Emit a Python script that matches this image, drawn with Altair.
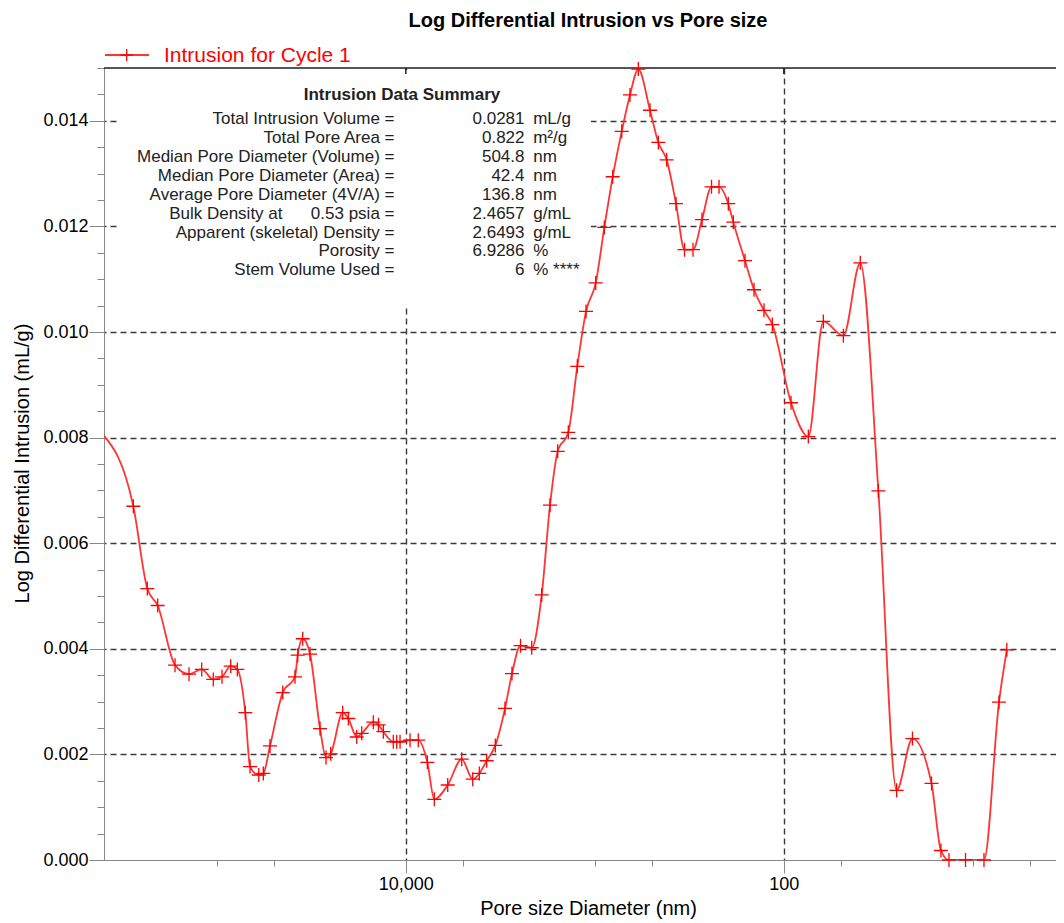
import altair as alt
import pandas as pd

# ---------------- data ----------------
diameter_nm = [405000, 276600, 233200, 205500, 166400, 140300, 120200, 104400, 93870, 84420,
               77900, 70660, 66720, 60020, 56750, 52310, 44800, 38580, 37330, 35120,
               32130, 28440, 26440, 24970, 21570, 20150, 18190, 17110, 14860, 13950,
               13150, 11650, 11170, 10730, 9500, 8590, 7693, 7068, 6002, 5061,
               4426, 4085, 3733, 3361, 2987, 2743, 2473, 2157, 1910, 1726,
               1572, 1381, 1238, 1113, 989, 890.6, 804, 720.5, 651.4, 588.7,
               510.5, 461.3, 416.6, 371.9, 335.3, 302.3, 270.9, 241.3, 220.2, 196.7,
               185.0, 160.5, 143.8, 127.3, 115.0, 91.6, 74.2, 61.8, 48.4, 39.4,
               31.6, 25.3, 20.87, 16.54, 14.75, 13.37, 10.93, 8.73, 7.27, 6.61]
log_diff_intrusion = [0.00808, 0.0067, 0.00514, 0.00482, 0.00369, 0.00352, 0.00361, 0.00342, 0.00347, 0.00367,
                      0.00361, 0.00279, 0.00177, 0.00161, 0.00164, 0.00216, 0.00317, 0.00347, 0.00388, 0.00419,
                      0.00390, 0.00249, 0.00194, 0.00201, 0.00279, 0.00268, 0.00233, 0.00240, 0.00261, 0.00256,
                      0.00243, 0.00224, 0.00224, 0.00224, 0.00227, 0.00227, 0.00185, 0.00115, 0.00142, 0.00191,
                      0.00153, 0.00164, 0.00188, 0.00217, 0.00287, 0.00353, 0.00406, 0.00402, 0.00502, 0.00672,
                      0.00774, 0.00810, 0.00935, 0.01039, 0.01093, 0.01198, 0.01294, 0.01380, 0.01449, 0.01498,
                      0.01420, 0.01359, 0.01326, 0.01243, 0.01156, 0.01156, 0.01213, 0.01275, 0.01275, 0.01243,
                      0.01208, 0.01135, 0.01080, 0.01041, 0.01014, 0.00866, 0.00802, 0.01020, 0.00993, 0.01131,
                      0.00699, 0.00132, 0.00230, 0.00145, 0.00018, 0.0, 0.0, 0.0, 0.00299, 0.00398]

x_tick_values = [100000, 50000, 10000, 5000, 1000, 500, 100, 50, 10, 5]
x_major_ticks = [10000, 100]
y_tick_values = [round(i * 0.0005, 4) for i in range(31)]

summary_title = "Intrusion Data Summary"
summary_labels = ["Total Intrusion Volume =", "Total Pore Area =", "Median Pore Diameter (Volume) =",
                  "Median Pore Diameter (Area) =", "Average Pore Diameter (4V/A) =",
                  "Bulk Density at\u00a0\u00a0\u00a0\u00a0\u00a0\u00a00.53 psia =",
                  "Apparent (skeletal) Density =", "Porosity =", "Stem Volume Used ="]
summary_values = ["0.0281", "0.822", "504.8", "42.4", "136.8", "2.4657", "2.6493", "6.9286", "6"]
summary_units = ["mL/g", "m\u00b2/g", "nm", "nm", "nm", "g/mL", "g/mL", "%", "% ****"]

series_name = "Intrusion for Cycle 1"
chart_title = "Log Differential Intrusion vs Pore size"
x_title = "Pore size Diameter (nm)"
y_title = "Log Differential Intrusion (mL/g)"

# ---------------- layout / style ----------------
FONT = "Liberation Sans"
W, H = 952, 792
X_MIN, X_MAX = 3.63, 395300
RED_LINE = "#ff3535"
RED = "#ff0000"
DARK = "#222222"
PLUS = "M-1,0H1M0,-1V1"

df = pd.DataFrame({"d": diameter_nm, "v": log_diff_intrusion})
df["idx"] = range(len(df))
one = pd.DataFrame({"k": [0]})
top_ticks_df = pd.DataFrame({"d": x_major_ticks})

XMAJ = "(datum.value == 10000 || datum.value == 100)"
YMAJ = "(abs(datum.value * 500 - round(datum.value * 500)) < 0.01)"

xscale = alt.Scale(type="log", domain=[X_MIN, X_MAX], reverse=True, nice=False)
yscale = alt.Scale(domain=[0, 0.015], nice=False, zero=False)

x_axis = alt.Axis(
    values=x_tick_values,
    labelExpr="datum.value == 10000 ? '10,000' : (datum.value == 100 ? '100' : '')",
    tickSize={"condition": {"test": XMAJ, "value": 13}, "value": 6},
    grid=True,
    gridOpacity={"condition": {"test": XMAJ, "value": 1}, "value": 0},
    gridColor="#3a3a3a", gridDash=[6, 4], gridWidth=1.4,
    labelFontSize=18, labelPadding=2, labelOverlap=False, labelFlush=False,
    titleFontSize=20, titleFontWeight="normal", titleX=484, titleY=54,
    titleBaseline="alphabetic", titleAlign="center",
)
y_axis = alt.Axis(
    values=y_tick_values,
    labelExpr=f"{YMAJ} ? format(datum.value, '.3f') : ''",
    tickSize={"condition": {"test": YMAJ, "value": 15}, "value": 7},
    grid=True,
    gridOpacity={"condition": {"test": YMAJ + " && datum.value > 0.0001", "value": 1}, "value": 0},
    gridColor="#3a3a3a", gridDash=[6, 4], gridWidth=1.4,
    labelFontSize=18, labelPadding=1, labelOverlap=False, labelFlush=False,
    titleFontSize=20, titleFontWeight="normal", titleX=-82, titleY=395, titleAngle=270,
    titleAlign="center", titleBaseline="middle",
)

x_enc = alt.X("d:Q", scale=xscale, axis=x_axis, title=x_title)
y_enc = alt.Y("v:Q", scale=yscale, axis=y_axis, title=y_title)

# white summary box hiding the grid behind the text
box = alt.Chart(one).mark_rect(color="white").encode(
    x=alt.value(16), x2=alt.value(487), y=alt.value(2), y2=alt.value(240))

top_rule = alt.Chart(one).mark_rule(color=DARK, strokeWidth=1.5).encode(
    x=alt.value(0), x2=alt.value(W), y=alt.value(0))
top_ticks = alt.Chart(top_ticks_df).mark_rule(color=DARK, strokeWidth=1.5).encode(
    x=x_enc, y=alt.value(0), y2=alt.value(6))

txt = dict(font=FONT, fontSize=17, color=DARK, baseline="alphabetic", lineHeight=18.875)
s_title = alt.Chart(one).mark_text(text=summary_title, align="center", fontWeight="bold", **txt).encode(
    x=alt.value(298), y=alt.value(32.3))
s_labels = alt.Chart(one).mark_text(text=summary_labels, align="right", **txt).encode(
    x=alt.value(290.5), y=alt.value(56.3))
s_values = alt.Chart(one).mark_text(text=summary_values, align="right", **txt).encode(
    x=alt.value(420.5), y=alt.value(56.3))
s_units = alt.Chart(one).mark_text(text=summary_units, align="left", **txt).encode(
    x=alt.value(429.2), y=alt.value(56.3))

line = alt.Chart(df).mark_line(interpolate="monotone", color=RED_LINE, strokeWidth=1.8, clip=True).encode(
    x=x_enc, y=y_enc, order=alt.Order("idx:Q"))
points = alt.Chart(df).transform_filter(f"datum.d <= {X_MAX}").mark_point(
    shape=PLUS, size=196, color=RED, filled=False, strokeWidth=1.3, opacity=1).encode(x=x_enc, y=y_enc)

leg_rule = alt.Chart(one).mark_rule(color=RED_LINE, strokeWidth=1.8).encode(
    x=alt.value(1), x2=alt.value(45), y=alt.value(-13))
leg_plus = alt.Chart(one).mark_point(shape=PLUS, size=150, color=RED, filled=False,
                                     strokeWidth=1.3, opacity=1).encode(x=alt.value(22.7), y=alt.value(-13))
leg_text = alt.Chart(one).mark_text(text=series_name, align="left", baseline="alphabetic",
                                    font=FONT, fontSize=21, color=RED).encode(
    x=alt.value(60), y=alt.value(-6))

chart = alt.layer(
    box, top_rule, top_ticks, s_title, s_labels, s_values, s_units,
    line, points, leg_rule, leg_plus, leg_text,
).properties(
    width=W, height=H,
    padding={"left": 96, "top": 60, "right": 0, "bottom": 59},
    autosize=alt.AutoSizeParams(type="none"),
    title=alt.TitleParams(chart_title, font=FONT, fontSize=20, fontWeight="bold", color="black",
                          anchor="middle", frame="group", offset=14, dx=8, dy=20, baseline="bottom"),
).configure_view(stroke=None).configure_axis(
    labelFont=FONT, titleFont=FONT, labelColor=DARK, titleColor=DARK, titleFontWeight="normal",
    domainColor=DARK, domainWidth=2, tickColor=DARK, tickWidth=1.5,
).configure(background="white")

chart.save("out.html", embed_options={"renderer": "svg", "actions": False})
